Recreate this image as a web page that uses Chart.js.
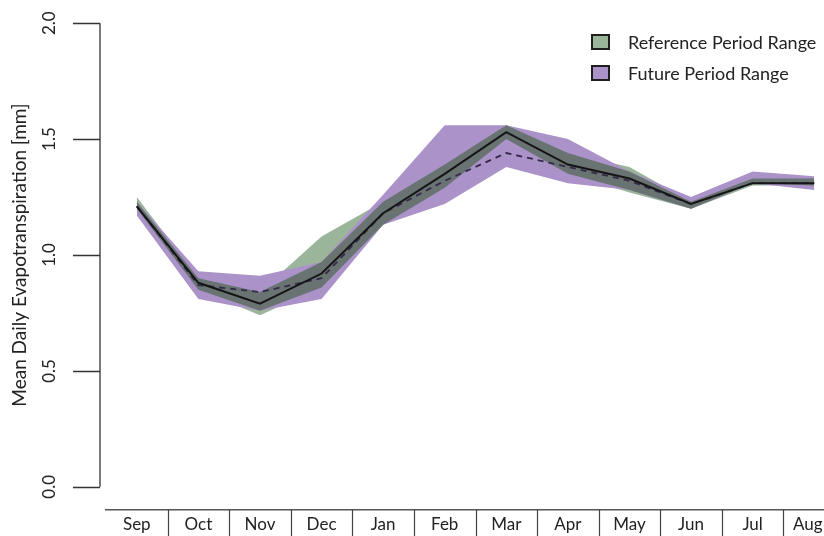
<!DOCTYPE html>
<html>
<head>
<meta charset="utf-8">
<script src="https://cdn.jsdelivr.net/npm/chart.js@4/dist/chart.umd.min.js"></script>
<style>
  html, body { margin: 0; padding: 0; background: #fff; overflow: hidden; }
  #wrap { position: relative; width: 845px; height: 536px; }
</style>
</head>
<body>
<div id="wrap"><canvas id="et-chart"></canvas></div>
<script>
function $id(id) { return document.getElementById(id); }

const months = ["Sep", "Oct", "Nov", "Dec", "Jan", "Feb", "Mar", "Apr", "May", "Jun", "Jul", "Aug"];
const yTicks = [0, 0.5, 1.0, 1.5, 2.0];

// mean daily ET per month
const refMean = [1.21, 0.88, 0.79, 0.92, 1.18, 1.35, 1.53, 1.39, 1.33, 1.22, 1.31, 1.31];
const futMean = [1.21, 0.87, 0.84, 0.90, 1.18, 1.32, 1.44, 1.38, 1.32, 1.22, 1.31, 1.31];

// min / max envelopes of the model runs
const refUpper = [1.25, 0.90, 0.84, 1.08, 1.23, 1.39, 1.56, 1.44, 1.38, 1.23, 1.33, 1.33];
const refLower = [1.20, 0.85, 0.74, 0.86, 1.13, 1.29, 1.50, 1.35, 1.27, 1.20, 1.30, 1.30];
const futUpper = [1.23, 0.93, 0.91, 0.97, 1.26, 1.56, 1.56, 1.50, 1.36, 1.25, 1.36, 1.34];
const futLower = [1.17, 0.81, 0.76, 0.81, 1.13, 1.22, 1.38, 1.31, 1.28, 1.20, 1.31, 1.28];

// where both ranges overlap the band is drawn darker
const bothUpper = refUpper.map((v, i) => Math.min(v, futUpper[i]));
const bothLower = refLower.map((v, i) => Math.max(v, futLower[i]));

const green = "#9bb59b";
const purple = "#ab93c9";
const dark = "#687372";
const ink = "#222";

Chart.defaults.font.family = "Lato, 'Open Sans', sans-serif";
Chart.defaults.color = ink;

function band(data, fill, color) {
    return {
        data: data,
        fill: fill,
        backgroundColor: color,
        borderWidth: 0,
        pointRadius: 0,
        tension: 0
    };
}

// y axis drawn R-style: line only from 0 to 2, set off a little from the plot;
// month cells below the x axis are split by short vertical rules
const rAxis = {
    id: "rAxis",
    afterDraw(chart) {
        const ctx = chart.ctx;
        const y = chart.scales.y;
        const x = chart.scales.x;
        const x0 = chart.chartArea.left - 6;
        ctx.save();
        ctx.strokeStyle = "#333";
        ctx.lineWidth = 1.3;
        ctx.beginPath();
        ctx.moveTo(x0, y.getPixelForValue(yTicks[0]));
        ctx.lineTo(x0, y.getPixelForValue(yTicks[yTicks.length - 1]));
        yTicks.forEach(v => {
            const py = Math.round(y.getPixelForValue(v)) + 0.5;
            ctx.moveTo(x0, py);
            ctx.lineTo(x0 - 27, py);
        });
        ctx.stroke();

        ctx.strokeStyle = "#444";
        ctx.lineWidth = 1.2;
        ctx.beginPath();
        for (let i = 1; i < months.length; i++) {
            const px = Math.round((x.getPixelForTick(i - 1) + x.getPixelForTick(i)) / 2) + 0.5;
            ctx.moveTo(px, chart.chartArea.bottom);
            ctx.lineTo(px, chart.height);
        }
        ctx.stroke();
        ctx.restore();
    }
};

const boxLegend = {
    id: "boxLegend",
    afterDraw(chart) {
        const ctx = chart.ctx;
        const items = [["Reference Period Range", green], ["Future Period Range", purple]];
        ctx.save();
        ctx.font = "18px Lato, 'Open Sans', sans-serif";
        ctx.textBaseline = "middle";
        items.forEach((it, i) => {
            const top = 35 + i * 31;
            ctx.fillStyle = it[1];
            ctx.fillRect(592, top, 17, 14);
            ctx.strokeStyle = "#1e1e1e";
            ctx.lineWidth = 2;
            ctx.strokeRect(592, top, 17, 14);
            ctx.fillStyle = ink;
            ctx.fillText(it[0], 628, top + 8);
        });
        ctx.restore();
    }
};

new Chart($id("et-chart"), {
    type: "line",
    data: {
        labels: months,
        datasets: [
            {
                data: refMean,
                borderColor: "#151515",
                borderWidth: 2,
                pointRadius: 0,
                tension: 0,
                fill: false
            },
            {
                data: futMean,
                borderColor: "#35294a",
                borderWidth: 1.8,
                borderDash: [6, 5],
                pointRadius: 0,
                tension: 0,
                fill: false
            },
            band(bothUpper, "+1", dark),
            band(bothLower, false, dark),
            band(futUpper, "+1", purple),
            band(futLower, false, purple),
            band(refUpper, "+1", green),
            band(refLower, false, green)
        ]
    },
    options: {
        responsive: true,
        maintainAspectRatio: false,
        animation: false,
        layout: { padding: { left: 6, right: 0, top: 0, bottom: 0 } },
        plugins: {
            legend: { display: false },
            tooltip: { enabled: false }
        },
        scales: {
            x: {
                type: "category",
                offset: true,
                grid: { display: false, drawTicks: false },
                border: { display: true, color: "#555", width: 1.5 },
                ticks: {
                    padding: 4,
                    font: { size: 17 },
                    color: ink,
                    maxRotation: 0,
                    autoSkip: false,
                    // last cell runs past the page edge, nudge its label back in
                    callback: (v, i) => i === months.length - 1 ? months[i] + "\u2003" : months[i]
                },
                afterFit: axis => {
                    axis.height = 26;
                    axis.paddingLeft = 0;
                    axis.paddingRight = 0;
                }
            },
            y: {
                min: -0.1,
                max: 2.1,
                afterBuildTicks: axis => {
                    axis.ticks = yTicks.map(v => ({ value: v }));
                },
                afterFit: axis => {
                    axis.width = 100;
                    axis.paddingTop = 0;
                    axis.paddingBottom = 0;
                },
                grid: { display: false, drawTicks: false },
                border: { display: false },
                ticks: {
                    minRotation: 90,
                    maxRotation: 90,
                    crossAlign: "center",
                    padding: 45,
                    font: { size: 17 },
                    color: ink,
                    callback: v => v.toFixed(1)
                },
                title: {
                    display: true,
                    text: "Mean Daily Evapotranspiration [mm]",
                    font: { size: 19 },
                    color: ink,
                    padding: { top: 2, bottom: 4 }
                }
            }
        }
    },
    plugins: [rAxis, boxLegend]
});
</script>
</body>
</html>
